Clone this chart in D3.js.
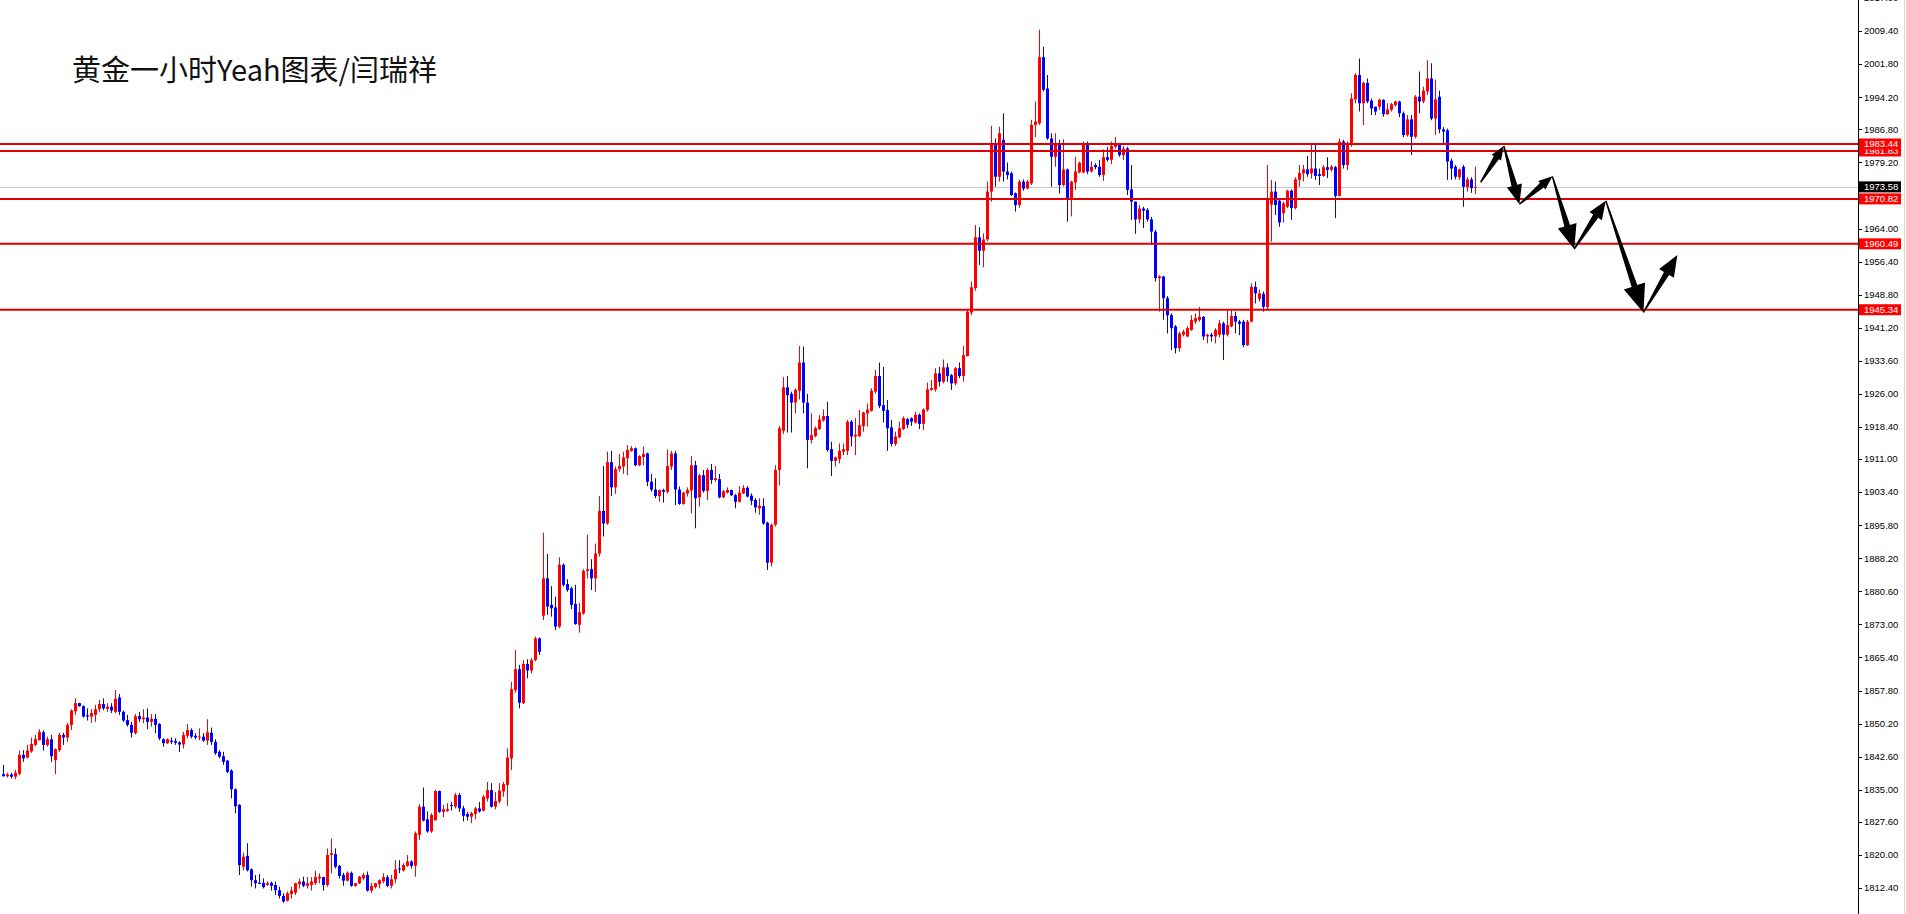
<!DOCTYPE html>
<html><head><meta charset="utf-8">
<script src="https://cdn.jsdelivr.net/npm/d3@7"></script>
<style>html,body{margin:0;padding:0;background:#fff;overflow:hidden}</style>
</head><body><svg id="c" width="1906" height="914"></svg>
<script>
const opens = [
1838.6,1838.1,1838.5,1838.0,1838.7,1843.0,1842.4,1843.8,1845.3,1846.4,
1848.2,1845.3,1846.6,1841.8,1844.1,1847.6,1847.0,1849.9,1853.0,1854.9,
1854.2,1852.1,1851.8,1852.2,1853.5,1854.7,1853.6,1854.1,1852.9,1856.2,
1852.9,1851.0,1849.9,1848.0,1851.9,1851.2,1851.6,1850.6,1851.3,1850.1,
1846.6,1845.7,1846.3,1846.2,1845.9,1845.4,1847.4,1848.7,1847.4,1847.0,
1847.2,1846.3,1848.1,1846.0,1843.7,1842.7,1841.7,1839.4,1835.1,1831.5,
1817.3,1819.8,1816.7,1814.2,1813.6,1813.6,1813.1,1813.6,1813.1,1811.9,
1810.6,1809.5,1811.0,1811.3,1813.3,1813.9,1812.9,1813.1,1813.5,1814.6,
1814.9,1813.1,1820.0,1820.2,1817.5,1815.4,1814.1,1815.9,1812.9,1813.5,
1814.6,1815.4,1811.8,1812.6,1813.3,1813.9,1814.9,1812.9,1814.4,1816.9,
1816.4,1817.5,1818.5,1817.5,1824.6,1831.1,1828.2,1825.4,1828.0,1834.7,
1829.9,1830.1,1831.5,1831.1,1833.8,1830.7,1829.4,1828.8,1829.4,1830.7,
1830.2,1833.0,1834.9,1831.1,1832.3,1834.6,1836.1,1842.2,1857.9,1862.7,
1854.9,1863.9,1862.4,1864.8,1869.8,1875.0,1883.6,1877.5,1876.9,1872.5,
1886.7,1882.3,1881.3,1877.7,1872.9,1875.5,1885.3,1885.7,1883.6,1889.3,
1899.1,1896.2,1910.3,1904.5,1908.7,1909.3,1911.2,1912.9,1913.5,1909.6,
1911.5,1912.3,1905.8,1904.0,1902.5,1903.9,1903.5,1909.3,1912.3,1904.0,
1900.7,1903.1,1903.8,1909.6,1902.2,1907.3,1903.7,1908.5,1906.2,1906.4,
1902.2,1903.3,1903.9,1902.7,1901.2,1903.1,1904.4,1902.6,1901.6,1899.7,
1900.2,1896.4,1887.2,1895.9,1908.5,1917.5,1927.5,1926.0,1924.0,1926.7,
1933.2,1924.0,1915.4,1916.3,1917.9,1919.9,1920.9,1913.3,1910.6,1911.0,
1912.7,1912.9,1919.6,1916.2,1916.3,1918.6,1921.5,1922.1,1926.5,1930.1,
1923.4,1922.3,1918.3,1914.5,1916.0,1917.9,1920.2,1920.4,1919.4,1921.2,
1919.1,1922.3,1926.9,1927.0,1930.7,1928.8,1932.1,1930.3,1928.4,1931.9,
1930.1,1934.7,1944.7,1950.3,1962.0,1958.9,1961.5,1972.5,1983.2,1975.9,
1984.4,1977.1,1976.7,1972.1,1969.4,1974.8,1973.2,1974.4,1987.8,1988.2,
2003.4,1996.2,1984.7,1980.5,1983.4,1974.0,1977.6,1970.6,1974.6,1976.9,
1976.9,1983.4,1977.1,1978.6,1978.2,1976.3,1980.4,1979.8,1982.8,1983.4,
1980.9,1982.4,1973.0,1970.2,1966.1,1968.6,1968.3,1966.1,1963.3,1952.6,
1953.0,1948.0,1944.1,1941.5,1936.5,1939.6,1939.2,1940.7,1942.6,1943.0,
1943.7,1939.2,1939.6,1939.2,1939.6,1942.2,1939.6,1941.5,1943.9,1942.6,
1942.6,1937.2,1942.6,1950.6,1947.8,1949.0,1946.0,1969.5,1972.5,1970.4,
1967.5,1969.0,1972.7,1968.7,1975.2,1976.7,1977.6,1976.7,1977.8,1976.5,
1976.1,1978.1,1977.5,1978.1,1971.5,1984.0,1978.6,1983.2,1993.7,1999.3,
1992.8,1997.5,1993.4,1992.0,1992.0,1993.6,1990.3,1991.3,1992.4,1993.2,
1990.5,1985.5,1989.1,1985.1,1994.3,1993.2,1995.5,1998.5,1989.3,1994.3,
1986.8,1986.6,1979.6,1978.2,1975.8,1978.2,1973.5,1975.3,1973.4];
const highs = [
1840.7,1838.9,1838.9,1839.5,1844.0,1844.1,1845.3,1847.0,1847.6,1848.9,
1848.7,1847.2,1847.6,1844.5,1848.1,1848.1,1850.4,1853.5,1856.0,1855.0,
1854.4,1853.7,1853.5,1854.5,1855.6,1856.0,1854.9,1854.9,1857.9,1857.0,
1853.2,1852.2,1850.6,1852.4,1852.9,1853.5,1853.7,1852.4,1852.4,1850.3,
1846.8,1846.8,1847.0,1846.8,1846.1,1848.3,1850.1,1849.1,1848.0,1849.1,
1848.0,1851.2,1849.3,1846.6,1844.1,1843.7,1841.8,1839.7,1835.3,1831.7,
1820.5,1822.7,1816.9,1815.4,1815.6,1814.6,1813.9,1813.9,1813.9,1812.7,
1811.2,1811.6,1812.7,1813.6,1814.6,1815.0,1814.9,1814.9,1816.4,1815.8,
1815.0,1821.5,1823.8,1821.5,1817.7,1815.9,1816.2,1816.2,1813.6,1815.2,
1815.9,1816.2,1813.6,1813.6,1814.4,1815.8,1815.4,1815.4,1818.8,1818.8,
1818.1,1820.0,1818.8,1825.4,1831.7,1835.5,1830.0,1829.6,1834.9,1834.8,
1831.5,1831.9,1832.2,1834.3,1834.2,1831.3,1829.9,1829.9,1831.1,1832.2,
1833.8,1836.8,1836.5,1834.5,1836.5,1836.8,1844.5,1859.8,1867.1,1863.7,
1864.8,1865.0,1865.3,1870.2,1870.0,1894.1,1889.2,1881.8,1879.4,1888.4,
1887.0,1883.4,1881.7,1882.1,1877.9,1885.7,1893.6,1888.0,1891.6,1902.5,
1909.4,1912.7,1912.9,1909.3,1912.2,1912.7,1914.2,1914.0,1913.7,1911.9,
1913.9,1912.5,1907.6,1906.6,1904.0,1904.2,1913.2,1912.9,1912.9,1904.7,
1903.5,1904.5,1911.7,1910.6,1907.6,1908.5,1908.9,1909.9,1909.4,1907.6,
1903.9,1904.5,1904.0,1903.0,1904.8,1905.0,1904.8,1903.1,1902.0,1902.0,
1902.0,1896.6,1896.2,1909.6,1918.6,1929.9,1930.1,1926.5,1927.3,1937.0,
1936.9,1926.0,1921.5,1918.5,1921.1,1922.4,1924.2,1915.0,1911.6,1914.6,
1914.6,1920.0,1920.0,1920.4,1922.3,1921.9,1923.8,1927.3,1931.5,1933.2,
1932.2,1924.6,1920.0,1917.3,1919.6,1920.8,1920.4,1920.6,1921.9,1921.5,
1922.7,1928.6,1929.2,1931.9,1932.2,1933.9,1933.0,1930.6,1932.2,1933.2,
1937.0,1945.3,1951.8,1964.8,1964.3,1962.9,1974.8,1987.6,1984.7,1987.4,
1990.5,1979.2,1977.1,1972.3,1975.2,1975.3,1975.2,1989.0,1993.2,2009.7,
2005.8,1999.3,1985.9,1985.9,1984.4,1984.5,1977.8,1975.0,1980.5,1979.4,
1984.0,1984.0,1979.4,1979.0,1979.8,1982.2,1982.8,1984.0,1985.1,1983.6,
1983.0,1982.8,1978.6,1970.2,1969.4,1969.0,1968.7,1966.7,1963.7,1953.3,
1953.1,1948.5,1944.5,1941.8,1940.3,1940.7,1941.5,1944.1,1944.5,1946.0,
1943.9,1939.8,1940.0,1941.1,1943.0,1942.6,1945.3,1945.3,1944.9,1943.0,
1943.0,1943.0,1951.4,1951.8,1950.0,1949.5,1978.6,1975.2,1974.8,1970.7,
1970.2,1972.9,1973.0,1975.8,1978.6,1978.6,1980.7,1983.2,1983.2,1977.8,
1978.6,1980.4,1978.6,1978.4,1984.7,1984.4,1984.0,1995.1,1999.7,2003.1,
1997.8,1998.5,1993.9,1992.0,1993.9,1993.7,1992.8,1992.9,1993.4,1993.4,
1990.9,1990.1,1990.1,1994.7,2000.1,1996.6,2002.7,2002.0,1998.2,1995.7,
1987.3,1987.0,1980.1,1978.6,1977.8,1978.6,1975.8,1975.8,1978.2];
const lows = [
1838.0,1837.8,1837.6,1837.4,1838.3,1841.4,1842.2,1843.5,1845.0,1846.3,
1844.0,1844.9,1841.4,1838.6,1843.7,1845.3,1846.0,1848.7,1852.2,1854.1,
1851.6,1850.9,1850.4,1850.6,1852.9,1853.3,1852.9,1852.6,1852.6,1852.2,
1850.6,1849.5,1847.0,1847.7,1850.6,1850.3,1848.9,1849.5,1848.0,1846.4,
1844.9,1845.5,1845.5,1845.3,1843.7,1844.5,1846.8,1846.8,1846.6,1846.4,
1846.0,1845.3,1845.3,1843.0,1842.2,1840.7,1838.8,1833.0,1829.6,1815.4,
1816.5,1816.2,1812.7,1812.3,1813.3,1812.3,1812.9,1811.8,1810.8,1810.0,
1809.0,1809.3,1810.0,1810.8,1812.3,1812.6,1812.3,1811.8,1813.1,1813.5,
1811.8,1812.7,1815.8,1816.9,1814.6,1812.9,1813.9,1812.7,1812.7,1813.3,
1814.2,1811.6,1811.3,1812.3,1812.3,1813.5,1812.6,1812.3,1813.5,1815.8,
1816.2,1817.3,1816.9,1815.0,1823.4,1827.7,1825.1,1825.1,1827.9,1829.7,
1828.7,1829.9,1830.2,1830.7,1829.9,1827.7,1827.9,1827.3,1828.2,1829.7,
1830.0,1832.3,1830.9,1830.5,1831.9,1833.4,1831.3,1839.5,1857.3,1853.7,
1854.7,1860.6,1861.8,1864.5,1866.0,1874.0,1875.2,1874.8,1871.7,1872.1,
1881.7,1880.5,1876.5,1872.9,1871.1,1875.2,1883.6,1880.9,1880.5,1888.6,
1893.2,1895.9,1902.5,1903.0,1908.1,1907.6,1907.3,1912.7,1909.4,1909.4,
1909.6,1904.8,1903.5,1902.0,1901.2,1901.0,1903.1,1908.5,1900.4,1900.5,
1900.5,1902.4,1898.5,1895.1,1900.1,1903.3,1901.6,1905.3,1905.8,1902.0,
1902.0,1903.1,1902.5,1899.7,1901.0,1903.0,1902.2,1900.4,1898.7,1898.2,
1895.9,1885.5,1886.3,1895.5,1905.0,1916.8,1917.1,1917.1,1921.5,1924.7,
1921.5,1908.9,1914.6,1916.0,1917.7,1919.6,1912.7,1907.1,1909.3,1910.0,
1911.9,1911.9,1913.9,1911.9,1916.0,1917.3,1918.5,1921.9,1926.1,1922.7,
1919.4,1912.9,1913.9,1914.0,1915.8,1917.7,1918.1,1918.6,1919.2,1917.9,
1917.7,1921.9,1926.7,1926.5,1927.7,1928.4,1928.8,1926.9,1928.0,1929.6,
1928.8,1934.6,1944.1,1949.7,1955.6,1955.1,1961.1,1970.2,1973.6,1974.8,
1974.8,1975.3,1971.5,1967.9,1968.8,1972.7,1973.0,1974.0,1985.0,1987.8,
1995.5,1984.4,1973.6,1978.2,1972.1,1973.7,1965.6,1966.8,1972.9,1976.7,
1976.7,1976.5,1976.9,1977.6,1975.9,1975.0,1979.4,1978.8,1982.4,1980.5,
1979.8,1971.7,1966.0,1962.8,1965.2,1964.1,1965.6,1960.2,1951.8,1944.9,
1943.0,1939.9,1936.1,1935.3,1935.7,1939.2,1939.0,1940.5,1942.1,1942.6,
1938.4,1937.6,1938.0,1937.6,1939.0,1933.8,1939.2,1941.3,1939.9,1939.5,
1936.7,1937.0,1942.4,1946.8,1947.2,1944.9,1945.5,1961.0,1967.1,1964.4,
1965.4,1968.7,1966.0,1968.4,1973.6,1974.8,1975.9,1975.5,1975.2,1974.0,
1975.9,1975.6,1977.1,1966.4,1971.4,1977.8,1977.4,1982.8,1992.8,1990.9,
1987.8,1992.8,1990.1,1990.1,1991.3,1989.7,1990.1,1990.9,1992.0,1989.6,
1985.0,1985.1,1980.9,1984.7,1990.5,1992.8,1994.7,1988.9,1985.5,1985.9,
1983.6,1975.2,1975.2,1975.3,1975.2,1969.0,1972.5,1972.2,1971.9];
const closes = [
1838.1,1838.5,1838.0,1838.9,1843.0,1842.2,1844.0,1845.5,1846.6,1848.3,
1845.3,1846.6,1842.7,1844.3,1847.6,1847.0,1849.9,1853.2,1854.9,1854.2,
1851.8,1851.8,1852.6,1853.5,1854.7,1853.7,1854.1,1853.2,1855.9,1852.9,
1850.9,1849.9,1848.1,1851.9,1851.2,1851.6,1850.6,1851.3,1849.9,1846.8,
1845.7,1846.6,1846.0,1845.8,1845.4,1847.6,1848.7,1847.2,1847.0,1847.2,
1846.3,1848.2,1846.0,1843.4,1842.6,1841.4,1839.1,1835.1,1831.2,1817.7,
1819.6,1816.5,1814.2,1813.5,1813.5,1812.6,1813.5,1812.9,1811.9,1810.6,
1809.3,1811.2,1811.8,1813.5,1813.9,1812.9,1813.5,1813.9,1814.9,1815.0,
1813.1,1820.0,1820.4,1817.3,1815.2,1814.1,1815.9,1812.9,1813.5,1815.0,
1815.4,1811.8,1812.9,1813.5,1814.2,1814.9,1812.9,1814.4,1816.7,1816.7,
1817.7,1818.5,1817.5,1825.0,1831.1,1827.9,1825.4,1829.2,1834.7,1829.9,
1830.5,1830.5,1831.3,1833.8,1830.7,1829.0,1828.8,1829.6,1830.7,1830.0,
1833.4,1834.9,1831.1,1832.4,1834.8,1836.3,1842.4,1858.1,1862.7,1855.0,
1863.9,1862.4,1864.8,1869.8,1866.7,1883.6,1877.1,1876.7,1872.5,1886.7,
1882.1,1880.9,1877.5,1873.1,1875.8,1885.3,1885.7,1883.6,1889.3,1899.1,
1896.2,1910.3,1904.5,1908.7,1909.4,1911.4,1913.1,1913.5,1909.6,1911.7,
1912.2,1905.8,1904.0,1902.5,1903.9,1903.5,1909.4,1912.3,1904.0,1900.7,
1903.3,1903.9,1909.6,1902.0,1907.3,1903.7,1908.5,1906.2,1906.6,1902.2,
1903.6,1903.9,1902.7,1901.2,1903.3,1904.4,1902.4,1901.4,1899.9,1900.3,
1896.2,1887.2,1895.9,1908.5,1918.1,1927.5,1925.7,1924.0,1926.9,1933.2,
1924.0,1915.4,1916.5,1918.1,1920.1,1920.9,1913.1,1910.6,1911.4,1912.9,
1913.3,1919.6,1916.2,1916.6,1918.8,1921.7,1922.4,1926.7,1930.1,1923.2,
1922.1,1918.1,1914.5,1916.2,1918.1,1920.4,1918.9,1919.6,1921.2,1919.1,
1922.4,1927.0,1927.3,1930.7,1928.8,1932.1,1930.1,1928.4,1931.9,1930.1,
1934.9,1944.9,1950.5,1962.0,1958.9,1961.5,1972.5,1983.2,1975.9,1985.9,
1977.1,1976.3,1971.7,1969.4,1974.8,1973.2,1974.8,1987.8,1988.6,2003.4,
1995.9,1984.7,1980.5,1983.6,1974.0,1977.6,1970.6,1974.8,1977.1,1979.1,
1983.6,1977.1,1978.2,1978.1,1976.3,1980.4,1979.8,1983.0,1983.6,1980.9,
1982.4,1972.9,1970.2,1966.1,1968.6,1968.1,1966.1,1963.3,1952.6,1953.0,
1948.0,1944.1,1941.1,1936.5,1939.9,1940.3,1941.1,1943.0,1943.4,1943.7,
1939.2,1939.6,1939.2,1940.7,1942.2,1939.6,1941.8,1943.9,1942.6,1942.1,
1937.2,1942.6,1950.6,1949.1,1949.1,1946.0,1971.0,1972.5,1969.4,1965.4,
1969.8,1972.7,1968.7,1975.3,1976.8,1977.6,1976.5,1977.8,1976.1,1976.1,
1978.1,1977.5,1978.2,1971.5,1984.0,1978.6,1983.6,1993.9,1999.3,1992.8,
1997.5,1993.2,1991.6,1990.9,1993.6,1990.3,1991.4,1992.6,1993.2,1990.5,
1985.5,1989.1,1985.1,1994.3,1993.2,1995.7,1998.5,1989.3,1993.7,1986.8,
1986.3,1979.4,1977.8,1975.9,1977.6,1973.6,1975.3,1973.3,1973.58];

const levels = [1983.44, 1981.83, 1970.82, 1960.49, 1945.34];
const levelLabels = ["1983.44", "1981.83", "1970.82", "1960.49", "1945.34"];
const bidPrice = 1973.58;
const bidLabel = "1973.58";
const tickLabels = ["2017.00","2009.40","2001.80","1994.20","1986.80","1979.20","1964.00","1956.40","1948.80","1941.20","1933.60","1926.00","1918.40","1911.00","1903.40","1895.80","1888.20","1880.60","1873.00","1865.40","1857.80","1850.20","1842.60","1835.00","1827.60","1820.00","1812.40"];
// projected path: [bar index, price]
const arrowPath = [[369.4,1974.6],[375.2,1983.0],[379.1,1969.6],[387.35,1976.0],[392.8,1959.3],[400.7,1970.4],[410.1,1944.7],[418.6,1957.9]];
const title = "黄金一小时Yeah图表/闫瑞祥";

const W = 1906, H = 914, axisX = 1858;
const N = closes.length;
const bull = "#ff0000", bear = "#0000ff", lineRed = "#e00000";

const svg = d3.select("#c");
const x = d3.scaleLinear().domain([0, N - 1]).range([3, 1475]);
const y = d3.scaleLinear().domain([1806.43, 2016.54]).range([H, 0]);

svg.append("rect").attr("width", W).attr("height", H).attr("fill", "#fff");
svg.append("defs").append("clipPath").attr("id", "plot")
  .append("rect").attr("x", 0).attr("y", 0).attr("width", axisX).attr("height", H);

const plot = svg.append("g").attr("clip-path", "url(#plot)");

// bid line
plot.append("line").attr("x1", 0).attr("x2", axisX)
  .attr("y1", Math.round(y(bidPrice)) + 0.5).attr("y2", Math.round(y(bidPrice)) + 0.5)
  .attr("stroke", "#c8c8c8").attr("stroke-width", 1);

// candles
const data = d3.range(N).map(i => ({i, o: opens[i], h: highs[i], l: lows[i], c: closes[i]}));
const cg = plot.append("g");
cg.selectAll("line.wick").data(data).join("line")
  .attr("class", "wick")
  .attr("x1", d => Math.round(x(d.i)) + 0.5).attr("x2", d => Math.round(x(d.i)) + 0.5)
  .attr("y1", d => y(d.h)).attr("y2", d => y(d.l))
  .attr("stroke", d => d.c >= d.o ? bull : bear).attr("stroke-width", 1);
cg.selectAll("rect.body").data(data).join("rect")
  .attr("class", "body")
  .attr("x", d => Math.round(x(d.i)) - 1)
  .attr("width", 3)
  .attr("y", d => y(Math.max(d.o, d.c)))
  .attr("height", d => Math.max(1, Math.abs(y(d.o) - y(d.c))))
  .attr("fill", d => d.c >= d.o ? bull : bear);

// horizontal levels
plot.selectAll("line.lvl").data(levels).join("line")
  .attr("class", "lvl")
  .attr("x1", 0).attr("x2", axisX)
  .attr("y1", d => y(d)).attr("y2", d => y(d))
  .attr("stroke", lineRed).attr("stroke-width", 2);

// arrows
function arrowPoints(x1, y1, x2, y2) {
  const dx = x2 - x1, dy = y2 - y1, L = Math.hypot(dx, dy);
  const ux = dx / L, uy = dy / L, nx = -uy, ny = ux;
  const hl = Math.min(28, Math.max(13, L * 0.32)), hw = hl * 0.8;
  const bx = x2 - ux * hl, by = y2 - uy * hl;
  const s0 = 0.7, s1 = 3.0;
  return [
    [x1 + nx * s0, y1 + ny * s0], [bx + nx * s1, by + ny * s1], [bx + nx * hw / 2, by + ny * hw / 2],
    [x2, y2], [bx - nx * hw / 2, by - ny * hw / 2], [bx - nx * s1, by - ny * s1], [x1 - nx * s0, y1 - ny * s0]
  ];
}
const segs = d3.pairs(arrowPath);
plot.selectAll("polygon.arrow").data(segs).join("polygon")
  .attr("class", "arrow")
  .attr("points", ([a, b]) => arrowPoints(x(a[0]), y(a[1]), x(b[0]), y(b[1])).map(p => p.join(",")).join(" "))
  .attr("fill", "#000");

// title
svg.append("text").attr("x", 72).attr("y", 81)
  .attr("font-family", "'Noto Sans CJK SC', 'Noto Sans', sans-serif")
  .attr("font-size", 29).attr("fill", "#111").text(title);

// price axis
const ax = svg.append("g");
ax.append("line").attr("x1", axisX + 0.5).attr("x2", axisX + 0.5).attr("y1", 0).attr("y2", H)
  .attr("stroke", "#000").attr("stroke-width", 1);
ax.append("line").attr("x1", 1904.5).attr("x2", 1904.5).attr("y1", 0).attr("y2", H)
  .attr("stroke", "#d4d4d4").attr("stroke-width", 1);
const tickVals = tickLabels.map(Number);
ax.selectAll("line.tk").data(tickVals).join("line")
  .attr("class", "tk")
  .attr("x1", axisX).attr("x2", axisX + 4)
  .attr("y1", d => Math.round(y(d)) + 0.5).attr("y2", d => Math.round(y(d)) + 0.5)
  .attr("stroke", "#000");
ax.selectAll("text.tl").data(tickLabels).join("text")
  .attr("class", "tl")
  .attr("x", 1864).attr("y", d => y(+d))
  .attr("dy", "0.35em")
  .attr("font-family", "'Liberation Sans', Arial, sans-serif").attr("font-size", 9.5)
  .attr("fill", "#000").text(d => d);

// price tags (top tag drawn last so it overlaps the one just below it)
const tags = levels.map((v, k) => ({v, t: levelLabels[k], bg: "#ff0000"})).reverse();
tags.push({v: bidPrice, t: bidLabel, bg: "#000"});
const order = [tags[0], tags[1], tags[2], tags[5], tags[3], tags[4]];
const tg = ax.selectAll("g.tag").data(order).join("g").attr("class", "tag");
tg.append("rect")
  .attr("x", axisX + 1).attr("width", 42)
  .attr("y", d => y(d.v) - 5.5).attr("height", 11)
  .attr("fill", d => d.bg);
tg.append("text")
  .attr("x", 1864).attr("y", d => y(d.v)).attr("dy", "0.35em")
  .attr("font-family", "'Liberation Sans', Arial, sans-serif").attr("font-size", 9.5)
  .attr("fill", "#fff").text(d => d.t);
</script></body></html>
